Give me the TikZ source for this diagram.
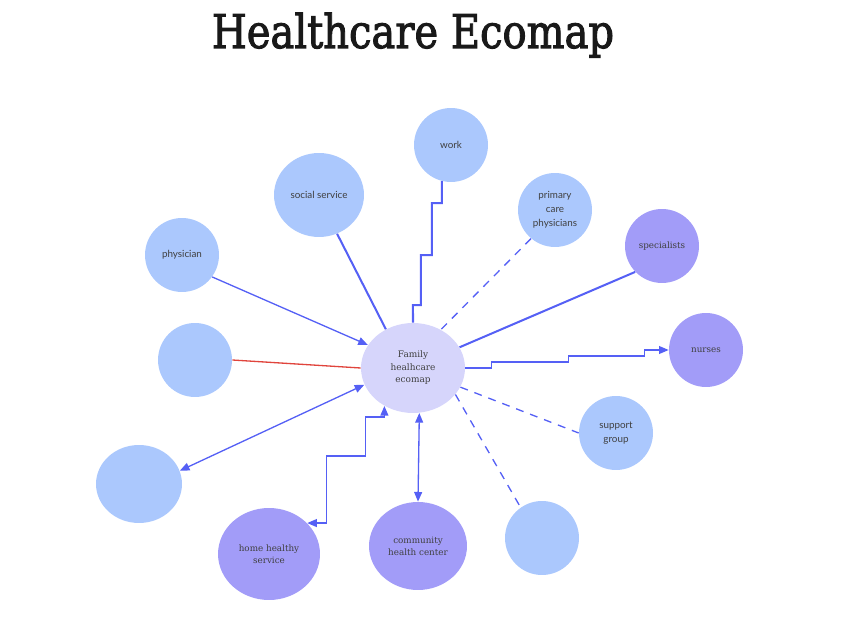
\documentclass[tikz,border=0pt]{standalone}
\usepackage{fontspec}
\setmainfont{DejaVu Serif}
\newfontfamily\labelfont{Lato}
\newfontfamily\titlefont[FakeBold=2.2]{DejaVu Serif}
\usetikzlibrary{shapes.geometric,arrows.meta}
\definecolor{paleblue}{HTML}{ABC8FD}
\definecolor{lilac}{HTML}{A29CF8}
\definecolor{palelilac}{HTML}{D6D5FB}
\definecolor{linkblue}{HTML}{5560F5}
\definecolor{linkred}{HTML}{E0443C}
\tikzstyle{vertex}=[ellipse,fill=paleblue,minimum width=1.48cm,minimum height=1.48cm,inner sep=0pt,align=center,text=black!75,font=\labelfont\fontsize{5.6}{8}\selectfont]
\tikzstyle{strong vertex}=[vertex,fill=lilac,font=\fontsize{5}{6.8}\selectfont]
\tikzstyle{ego}=[vertex,fill=palelilac,minimum width=2.08cm,minimum height=1.8cm,font=\fontsize{5.1}{7.1}\selectfont]
\tikzstyle{edge}=[draw,linkblue,line width=0.75pt]
\tikzstyle{strong edge}=[edge,line width=1.15pt]
\tikzstyle{weak edge}=[edge,dash pattern=on 4.5pt off 4pt]
\tikzstyle{stress edge}=[draw,linkred,line width=0.75pt]
\tikzstyle{flow}=[-{Triangle[length=5.5pt,width=4.5pt]}]
\tikzstyle{mutual}=[{Triangle[length=5.5pt,width=4.5pt]}-{Triangle[length=5.5pt,width=4.5pt]}]

\begin{document}
\begin{tikzpicture}[x=0.02cm,y=-0.02cm]
  \useasboundingbox (0,0) rectangle (841,644);
  % Title
  \node[anchor=base,text=black!90,font=\titlefont\fontsize{26.5}{30}\selectfont] (title) at (413,48)
    {\scalebox{0.86}[1]{Healthcare Ecomap}};
  % The family in the middle
  \node[ego] (fam) at (413,368) {Family\\healhcare\\ecomap};
  % Light blue vertices
  \foreach \pos/\name/\txt in {{(451,145)/work/work},{(555,210)/pcp/{primary\\care\\physicians}},
                               {(182,255)/phys/physician},{(195,360)/blankL/{}},
                               {(616,433)/support/{support\\group}},{(542,538)/blankB/{}}}
      \node[vertex] (\name) at \pos {\txt};
  \node[vertex,minimum width=1.8cm,minimum height=1.68cm] (social) at (319,195) {social service};
  \node[vertex,minimum width=1.72cm,minimum height=1.56cm] (blankLL) at (139,484) {};
  % Lilac vertices
  \node[strong vertex] (spec) at (662,246) {specialists};
  \node[strong vertex] (nurses) at (706,350) {nurses};
  \node[strong vertex,minimum width=2.04cm,minimum height=1.84cm] (home) at (269,554) {home healthy\\service};
  \node[strong vertex,minimum width=1.96cm,minimum height=1.76cm] (comm) at (418,546) {community\\health center};
  % Connections
  \path[strong edge] (work.-104) |- ++(-10,22) |- ++(-11,52) |- ++(-8,50) -- (fam.north);
  \path[strong edge] (social.-65) -- (fam.125);
  \path[strong edge] (spec.-136) -- (fam.24);
  \path[weak edge] (pcp.-130) -- (fam.54);
  \path[weak edge] (fam.-22) -- (support.west);
  \path[weak edge] (fam.-32) -- (blankB.125);
  \path[stress edge] (blankL.east) -- (fam.west);
  \path[edge,flow] (phys.-36) -- (fam.153);
  \path[edge,flow] (fam.east) -- ++(26,0) |- ++(77,-6) |- ++(76,-6) |- (nurses.west);
  \path[edge,mutual] (blankLL.18) -- (fam.-161);
  \path[edge,mutual] (home.39) -| ++(19,-67) -| ++(39,-39) -| (fam.-127);
  \path[edge,mutual] (comm.north) -- (fam.-82);
\end{tikzpicture}
\end{document}
